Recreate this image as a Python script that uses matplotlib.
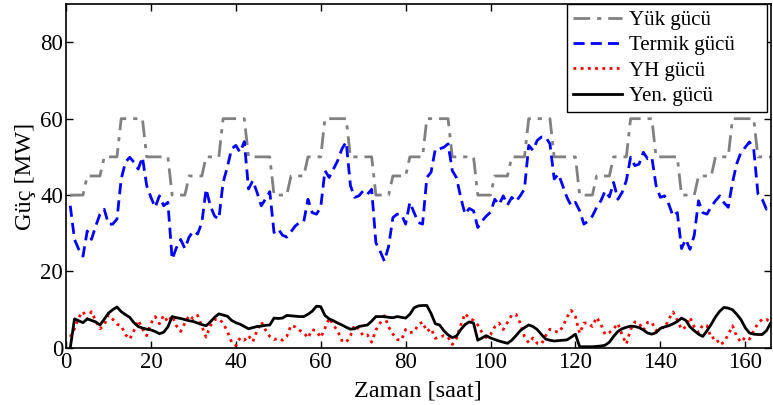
import numpy as np
import matplotlib
matplotlib.use("Agg")
import matplotlib.pyplot as plt

plt.rcParams['font.family'] = ['Liberation Serif', 'DejaVu Serif']
plt.rcParams['mathtext.fontset'] = 'stix'

# Hourly time axis for one week [h]
hours = list(range(1, 169))

# Demand profile, one row per day [MW]
load_mw = [
    40, 40, 40, 40, 45, 45, 45, 45, 50, 50, 50, 50, 60, 60, 60, 60, 60, 60, 50, 50, 50, 50, 50, 50,
    40, 40, 40, 40, 45, 45, 45, 45, 50, 50, 50, 50, 60, 60, 60, 60, 60, 60, 50, 50, 50, 50, 50, 50,
    40, 40, 40, 40, 45, 45, 45, 45, 50, 50, 50, 50, 60, 60, 60, 60, 60, 60, 50, 50, 50, 50, 50, 50,
    40, 40, 40, 40, 45, 45, 45, 45, 50, 50, 50, 50, 60, 60, 60, 60, 60, 60, 50, 50, 50, 50, 50, 50,
    40, 40, 40, 40, 45, 45, 45, 45, 50, 50, 50, 50, 60, 60, 60, 60, 60, 60, 50, 50, 50, 50, 50, 50,
    40, 40, 40, 40, 45, 45, 45, 45, 50, 50, 50, 50, 60, 60, 60, 60, 60, 60, 50, 50, 50, 50, 50, 50,
    40, 40, 40, 40, 45, 45, 45, 45, 50, 50, 50, 50, 60, 60, 60, 60, 60, 60, 50, 50, 50, 50, 50, 50,
]

# Thermal generation [MW]
thermal_mw = [
    37.2, 28.4, 25.8, 24.0, 30.6, 28.4, 31.9, 35.0, 36.3, 32.4, 32.4, 33.7,
    44.2, 48.6, 49.9, 48.6, 46.8, 49.9, 42.5, 39.4, 36.8, 39.8, 37.2, 38.1,
    23.2, 26.2, 28.4, 26.0, 29.0, 30.6, 29.8, 32.8, 41.6, 37.2, 34.5, 33.7,
    43.3, 47.3, 52.1, 53.0, 51.2, 54.0, 41.6, 43.8, 40.7, 37.2, 39.0, 40.9,
    30.2, 31.1, 29.5, 29.0, 30.4, 31.9, 32.8, 33.0, 38.9, 35.4, 35.0, 36.8,
    46.4, 44.6, 46.8, 49.0, 52.1, 53.9, 42.5, 39.4, 39.8, 41.1, 40.2, 41.5,
    27.5, 25.3, 22.7, 26.6, 34.1, 35.0, 35.0, 32.4, 38.1, 35.4, 32.8, 32.4,
    44.6, 46.0, 52.1, 52.1, 52.5, 53.4, 46.4, 44.5, 39.3, 35.0, 36.5, 35.9,
    31.5, 33.2, 34.5, 35.5, 38.9, 37.5, 39.8, 37.4, 39.4, 38.3, 39.8, 41.6,
    53.0, 51.7, 54.3, 55.2, 55.2, 53.4, 44.2, 45.5, 42.5, 39.4, 37.2, 38.1,
    35.9, 32.4, 33.2, 34.5, 36.8, 38.5, 41.1, 39.5, 43.3, 38.9, 40.7, 43.8,
    49.9, 47.7, 48.1, 51.2, 49.5, 49.9, 42.5, 39.4, 39.8, 37.6, 34.5, 35.4,
    26.0, 28.4, 25.8, 29.5, 38.5, 35.4, 35.0, 37.0, 38.5, 39.8, 38.0, 36.8,
    43.3, 48.2, 51.2, 52.5, 53.9, 52.1, 40.3, 38.9, 36.3, 37.6, 36.0, 36.5,
]

# Renewable (YH) generation [MW]
renewable_mw = [
    2.9, 5.0, 8.0, 9.5, 7.5, 9.5, 7.0, 5.0, 6.0, 8.6, 7.5, 6.2,
    5.8, 3.5, 2.3, 4.5, 7.2, 5.0, 3.2, 6.4, 8.2, 6.3, 8.5, 6.8,
    8.4, 5.8, 4.3, 6.5, 8.5, 7.6, 8.5, 5.6, 2.8, 5.8, 7.4, 7.6,
    6.5, 4.4, 1.5, 0.6, 2.6, 2.0, 3.2, 1.6, 4.5, 6.8, 4.7, 3.0,
    2.2, 2.5, 2.0, 3.0, 5.9, 5.5, 4.6, 4.0, 2.6, 4.8, 4.4, 2.7,
    5.1, 7.8, 6.0, 4.4, 1.9, 1.4, 3.2, 6.0, 4.9, 3.2, 3.4, 1.5,
    4.7, 6.5, 8.4, 5.5, 3.6, 2.2, 2.0, 4.8, 4.0, 4.2, 6.1, 6.8,
    4.3, 5.1, 2.5, 2.8, 3.2, 2.8, 0.9, 2.5, 6.0, 9.0, 7.8, 7.2,
    6.0, 4.0, 2.7, 3.5, 5.5, 6.5, 4.8, 6.7, 8.6, 8.8, 6.5, 3.0,
    1.3, 2.6, 1.2, 1.0, 3.2, 4.9, 4.5, 4.0, 5.5, 8.0, 9.8, 8.2,
    3.8, 6.5, 6.5, 5.6, 8.0, 6.2, 3.5, 4.0, 5.0, 6.4, 3.4, 1.0,
    4.8, 6.8, 6.5, 4.6, 6.7, 6.7, 4.5, 5.4, 5.2, 7.5, 9.4, 7.3,
    4.8, 5.5, 8.0, 5.5, 4.0, 6.0, 5.8, 2.5, 2.8, 0.8, 1.5, 3.5,
    5.8, 3.0, 1.5, 2.8, 2.3, 4.5, 6.4, 7.5, 7.5, 6.6, 7.0, 6.5,
]

# Generator (Yen.) output [MW]
generator_mw = [
    0.0, 7.6, 7.1, 6.6, 7.6, 7.2, 6.8, 6.0, 7.5, 9.1, 10.0, 10.7,
    9.5, 8.7, 8.0, 6.6, 5.6, 5.2, 4.9, 4.7, 4.3, 3.7, 4.1, 5.5,
    8.2, 7.9, 7.7, 7.4, 7.1, 6.9, 6.5, 6.1, 5.8, 6.8, 8.0, 8.9,
    8.6, 8.3, 7.2, 6.6, 6.2, 5.6, 5.0, 5.3, 5.6, 5.7, 5.9, 6.0,
    7.8, 7.7, 7.8, 8.5, 8.4, 8.3, 8.2, 8.2, 8.8, 9.6, 10.9, 10.8,
    8.5, 7.6, 7.1, 6.5, 6.0, 5.4, 4.9, 5.0, 5.6, 5.8, 6.0, 7.0,
    8.2, 8.2, 8.2, 8.0, 7.9, 8.2, 8.0, 7.8, 8.8, 10.5, 11.0, 11.1,
    11.1, 9.0, 6.3, 6.0, 4.5, 3.4, 2.7, 3.1, 4.8, 6.1, 6.8, 6.5,
    2.0, 2.6, 3.2, 2.6, 2.2, 1.8, 1.5, 1.2, 2.0, 3.2, 4.5, 5.3,
    6.0, 5.6, 4.8, 3.5, 2.3, 2.0, 1.8, 1.9, 2.0, 2.1, 2.8, 3.6,
    0.3, 0.3, 0.3, 0.3, 0.4, 0.5, 0.7, 1.5, 3.0, 4.3, 5.0, 5.4,
    5.7, 5.6, 5.3, 4.7, 3.9, 3.6, 4.0, 5.1, 5.5, 5.8, 6.3, 6.9,
    7.8, 7.2, 5.5, 4.5, 3.6, 3.0, 4.5, 6.2, 8.1, 9.6, 10.6, 10.4,
    10.0, 8.8, 7.4, 5.3, 3.9, 3.6, 3.5, 3.5, 4.5, 6.5, 7.5, 8.0,
]

series_labels = ['Yük gücü', 'Termik gücü', 'YH gücü', 'Yen. gücü']

fig = plt.figure(figsize=(7.73, 4.05), dpi=100)
ax = fig.add_axes([0.0854, 0.141, 0.9116, 0.849])

ax.plot(hours, load_mw, color=(0.5, 0.5, 0.5), lw=2, ls='-.',
        dashes=(6, 2.5, 1.5, 2.5), label=series_labels[0])
ax.plot(hours, thermal_mw, color=(0, 0, 1), lw=2, ls='--',
        dashes=(4, 2.2), label=series_labels[1])
ax.plot(hours, renewable_mw, color=(1, 0, 0), lw=2, ls=':',
        dashes=(1, 1.6), label=series_labels[2])
ax.plot(hours, generator_mw, color='black', lw=2, ls='-',
        label=series_labels[3])

ax.set_xlim(0, 166)
ax.set_ylim(0, 90)
ax.set_xticks(np.arange(0, 161, 20))
ax.set_yticks(np.arange(0, 81, 20))
ax.tick_params(direction='in', length=5, width=1, labelsize=16.5,
               top=True, right=True)
ax.tick_params(axis='x', pad=3)
ax.tick_params(axis='y', pad=2)
for s in ax.spines.values():
    s.set_linewidth(1.2)

ax.set_xlabel('Zaman [saat]', fontsize=17.5, labelpad=5)
ax.set_ylabel('Güç [MW]', fontsize=17.5, labelpad=3)

# Legend box stretched to a fixed width in the upper-right corner
leg = ax.legend(loc='upper left', bbox_to_anchor=(0.7106, 0.0, 0.2837, 1.0),
                mode='expand', fontsize=15, handlelength=2.35,
                borderaxespad=0.0, fancybox=False, edgecolor='black',
                framealpha=1, borderpad=0.3, labelspacing=0.28,
                handletextpad=0.35)
leg.get_frame().set_linewidth(1.0)

fig.savefig('out.png', dpi=100)
